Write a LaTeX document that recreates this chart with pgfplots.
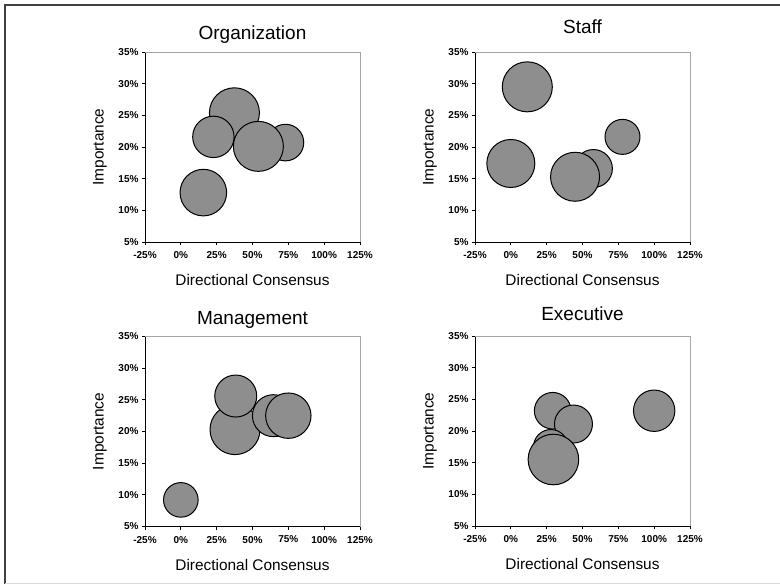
\documentclass[border=0pt]{standalone}
\usepackage{pgfplots}
\pgfplotsset{compat=1.18}
\usepackage{pgfplotstable}
\usepackage{fontspec}
\setmainfont{Liberation Sans}
\definecolor{bubfill}{RGB}{142,142,142}

\pgfplotstableread{
x y r
37.4 25.4 25
73 20.7 18.3
22.7 21.6 20.7
54.1 20.1 25
15.7 12.8 23.3
}\orgdata
\pgfplotstableread{
x y r
11.5 29.5 25
0 17.4 24
77.9 21.6 17.5
57.6 16.6 19
44.8 15.3 24.5
}\staffdata
\pgfplotstableread{
x y r
37.8 20.3 25
64.6 22.5 21
75 22.5 22.7
38.3 25.6 21
0 9.2 17.3
}\mgmtdata
\pgfplotstableread{
x y r
29.2 23.2 18.3
43.7 21.1 19
27.9 17.5 17.3
29.7 15.5 25.3
100 23.2 20.7
}\execdata

\pgfplotsset{
  bub/.style={
    scale only axis, width=215pt, height=190pt,
    anchor=north west,
    xmin=-25, xmax=125, ymin=5, ymax=35,
    xtick={-25,0,25,50,75,100,125},
    xticklabels={-25\%,0\%,25\%,50\%,75\%,100\%,125\%},
    ytick={5,10,15,20,25,30,35},
    yticklabels={5\%,10\%,15\%,20\%,25\%,30\%,35\%},
    axis x line*=bottom, axis y line*=left,
    axis line style={line width=0.9pt, black, -},
    tick align=outside, tick style={black, line width=0.8pt},
    major tick length=3pt,
    ticklabel style={font=\bfseries\fontsize{10}{11}\selectfont},
    xticklabel style={yshift=-3pt},
    xlabel={Directional Consensus}, ylabel={Importance},
    label style={font=\fontsize{15.4}{17}\selectfont},
    xlabel style={at={(axis description cs:0.5,0)}, anchor=center, yshift=-38pt},
    ylabel style={at={(axis description cs:0,0.5)}, anchor=center, rotate=0, yshift=45pt},
    title style={font=\fontsize{19}{21}\selectfont, at={(axis description cs:0.5,1)}, anchor=base},
    clip=false,
  },
  bubplot/.style={
    scatter, only marks, mark=*, scatter src=explicit,
    scatter/use mapped color={draw=black, fill=bubfill},
    line width=1pt,
    visualization depends on={\thisrow{r}\as\rad},
    scatter/@pre marker code/.append style={/tikz/mark size=\rad pt},
  },
}
\newcommand{\topright}{\draw[gray!70, line width=0.6pt] (rel axis cs:0,1) -- (rel axis cs:1,1) -- (rel axis cs:1,0);}

\begin{document}
\begin{tikzpicture}
\useasboundingbox (0pt,0pt) rectangle (780pt,-584pt);
\draw[line width=2pt, black!75] (5pt,-584pt) -- (5pt,-5pt) -- (780pt,-5pt);
\draw[line width=0.6pt, black!15] (5pt,-583pt) -- (780pt,-583pt);

\begin{axis}[bub, at={(145pt,-52pt)}, title={Organization}, title style={yshift=7pt}]
\topright
\addplot[bubplot] table[x=x,y=y,meta=r]{\orgdata};
\end{axis}

\begin{axis}[bub, at={(475pt,-52pt)}, title={Staff}, title style={yshift=13pt}]
\topright
\addplot[bubplot] table[x=x,y=y,meta=r]{\staffdata};
\end{axis}

\begin{axis}[bub, at={(145pt,-336.5pt)}, title={Management}, title style={yshift=6pt}]
\topright
\addplot[bubplot] table[x=x,y=y,meta=r]{\mgmtdata};
\end{axis}

\begin{axis}[bub, at={(475pt,-336pt)}, title={Executive}, title style={yshift=10pt}]
\topright
\addplot[bubplot] table[x=x,y=y,meta=r]{\execdata};
\end{axis}
\end{tikzpicture}
\end{document}
